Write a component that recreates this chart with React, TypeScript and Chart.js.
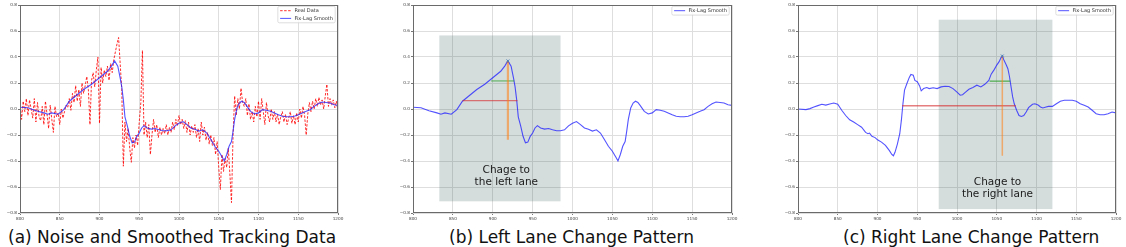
import React, { useEffect, useRef } from "react";
import { Chart, registerables } from "chart.js";

Chart.register(...registerables);

// ---------- axes ----------
const X_MIN = 800;
const X_MAX = 1200;
const Y_MIN = -0.8;
const Y_MAX = 0.8;
const X_TICKS = [800, 850, 900, 950, 1000, 1050, 1100, 1150, 1200];
const Y_TICKS = [-0.8, -0.6, -0.4, -0.2, 0, 0.2, 0.4, 0.6, 0.8];

// ---------- Fix-Lag Smooth (panels a & b) ----------
const SMOOTH_X = [
  800, 810, 820, 830, 835, 840, 848, 855, 862, 870,
  880, 890, 900, 910, 915, 919, 923, 926, 928, 930,
  932, 935, 938, 941, 944, 947, 950, 953, 956, 960,
  965, 970, 975, 980, 985, 990, 995, 1000, 1005, 1010,
  1015, 1020, 1025, 1030, 1035, 1040, 1045, 1050, 1055, 1057,
  1060, 1063, 1066, 1068, 1070, 1073, 1076, 1079, 1082, 1085,
  1090, 1095, 1100, 1105, 1110, 1115, 1120, 1125, 1130, 1135,
  1140, 1145, 1150, 1155, 1160, 1165, 1170, 1175, 1180, 1185,
  1190, 1195, 1200,
];
const SMOOTH_Y = [
  0.013, 0.01, -0.013, -0.03, -0.04, -0.03, -0.04, -0.005, 0.06, 0.1,
  0.15, 0.19, 0.24, 0.29, 0.33, 0.37, 0.33, 0.24, 0.17, 0.07,
  -0.06, -0.13, -0.21, -0.26, -0.255, -0.21, -0.185, -0.146, -0.128, -0.146,
  -0.155, -0.15, -0.16, -0.167, -0.167, -0.16, -0.13, -0.11, -0.097, -0.12,
  -0.146, -0.155, -0.17, -0.16, -0.185, -0.235, -0.287, -0.325, -0.377, -0.4,
  -0.35, -0.287, -0.25, -0.17, -0.08, 0.008, 0.046, 0.06, 0.05, 0.026,
  -0.018, -0.038, -0.03, -0.005, -0.01, -0.018, -0.03, -0.044, -0.056, -0.06,
  -0.06, -0.056, -0.044, -0.03, -0.018, -0.005, 0.02, 0.04, 0.054, 0.05,
  0.046, 0.033, 0.028,
];

// ---------- Real Data (panel a), sampled every 2 units from 800 ----------
const REAL_START = 800;
const REAL_STEP = 2;
const REAL_Y = [
  0.05, -0.08, 0.06, -0.02, 0.08, -0.05, 0.07, 0.0, -0.07, 0.08,
  -0.1, 0.05, -0.06, -0.09, 0.02, -0.12, 0.06, -0.04, -0.15, 0.03,
  -0.08, -0.18, 0.02, -0.06, -0.03, -0.12, 0.0, -0.07, -0.02, 0.03,
  0.01, 0.08, -0.01, 0.12, 0.05, 0.18, 0.06, 0.15, 0.02, 0.2,
  0.12, 0.18, 0.25, 0.15, -0.12, 0.22, 0.28, 0.17, 0.3, 0.4,
  -0.11, 0.32, 0.2, 0.3, 0.25, 0.33, 0.22, 0.35, 0.28, 0.38,
  0.44, 0.5, 0.55, 0.35, 0.15, -0.44, -0.1, -0.25, -0.15, -0.3,
  -0.41, -0.22, -0.3, -0.2, -0.28, -0.1, 0.05, 0.45, -0.2, -0.1,
  -0.22, -0.12, -0.35, -0.2, -0.08, -0.18, -0.12, -0.22, -0.14, -0.2,
  -0.15, -0.19, -0.12, -0.2, -0.14, -0.18, -0.1, -0.16, -0.08, -0.13,
  -0.05, -0.12, -0.08, -0.15, -0.09, -0.18, -0.1, -0.2, -0.13, -0.18,
  -0.12, -0.22, -0.15, -0.25, -0.1, -0.2, -0.14, -0.24, -0.18, -0.27,
  -0.2, -0.28, -0.22, -0.35, -0.25, -0.45, -0.62, -0.35, -0.48, -0.38,
  -0.45, -0.3, -0.5, -0.72, -0.2, 0.1, -0.05, 0.08, 0.0, 0.16,
  0.05, 0.02, 0.08, -0.05, 0.04, -0.08, -0.02, -0.1, 0.02, -0.06,
  0.06, -0.08, 0.08, -0.02, -0.12, 0.05, -0.05, -0.1, 0.0, -0.08,
  -0.02, -0.1, -0.04, -0.12, -0.06, -0.02, -0.1, -0.04, -0.12, -0.07,
  -0.02, -0.11, -0.05, -0.12, -0.03, -0.1, 0.0, -0.07, 0.02, -0.05,
  -0.2, -0.04, 0.05, -0.02, 0.06, 0.0, 0.08, 0.02, 0.09, 0.03,
  0.07, 0.0, 0.1, 0.19, 0.02, 0.08, 0.03, 0.07, 0.01, 0.06,
  -0.02,
];

// ---------- Fix-Lag Smooth (panel c) ----------
const RIGHT_X = [
  800, 810, 815, 820, 825, 830, 835, 840, 845, 850,
  855, 860, 865, 870, 875, 880, 885, 888, 890, 893,
  897, 900, 905, 910, 915, 918, 920, 922, 925, 928,
  930, 932, 934, 937, 940, 942, 945, 947, 950, 953,
  955, 958, 962, 965, 970, 975, 980, 985, 990, 995,
  1000, 1004, 1007, 1010, 1015, 1020, 1025, 1030, 1035, 1040,
  1043, 1047, 1050, 1053, 1055, 1057, 1059, 1062, 1064, 1066,
  1068, 1070, 1072, 1075, 1078, 1081, 1084, 1087, 1090, 1095,
  1098, 1102, 1105, 1108, 1112, 1115, 1120, 1125, 1130, 1135,
  1140, 1145, 1150, 1155, 1160, 1165, 1170, 1175, 1180, 1185,
  1190, 1195, 1200,
];
const RIGHT_Y = [
  0.0, -0.005, 0.003, 0.015, 0.026, 0.036, 0.03, 0.039, 0.046, 0.036,
  -0.01, -0.05, -0.083, -0.1, -0.12, -0.14, -0.18, -0.19, -0.185, -0.21,
  -0.22, -0.237, -0.255, -0.28, -0.32, -0.35, -0.36, -0.333, -0.27, -0.19,
  -0.088, 0.04, 0.145, 0.196, 0.243, 0.266, 0.26, 0.22, 0.21, 0.178,
  0.14, 0.157, 0.165, 0.157, 0.163, 0.157, 0.17, 0.175, 0.173, 0.157,
  0.13, 0.106, 0.11, 0.126, 0.152, 0.165, 0.183, 0.17, 0.19, 0.22,
  0.268, 0.305, 0.338, 0.364, 0.39, 0.408, 0.377, 0.338, 0.31, 0.25,
  0.17, 0.093, 0.04, -0.01, -0.05, -0.057, -0.05, -0.023, 0.01, 0.036,
  0.04, 0.03, 0.015, 0.008, 0.015, 0.02, 0.02, 0.04, 0.06, 0.067,
  0.067, 0.067, 0.06, 0.04, 0.028, 0.015, -0.01, -0.036, -0.044, -0.044,
  -0.036, -0.023, -0.03,
];

// ---------- annotations ----------
const LEFT_SPAN_X = [833, 985];
const LEFT_SPAN_Y = [-0.71, 0.566];
const LEFT_RED_X = [862, 931];
const LEFT_RED_Y = 0.064;
const LEFT_GREEN_X = [898, 927];
const LEFT_GREEN_Y = 0.216;
const LEFT_ORANGE_X = 919;
const LEFT_ORANGE_Y = [0.37, -0.237];
const LEFT_TEXT = ["Chage to", "the left lane"];
const LEFT_TEXT_X = 917;
const LEFT_TEXT_Y = [-0.475, -0.565];

const RIGHT_SPAN_X = [977, 1120];
const RIGHT_SPAN_Y = [-0.77, 0.687];
const RIGHT_RED_X = [931, 1074];
const RIGHT_RED_Y = 0.025;
const RIGHT_GREEN_X = [1041, 1067];
const RIGHT_GREEN_Y = 0.214;
const RIGHT_ORANGE_X = 1057;
const RIGHT_ORANGE_Y = [0.408, -0.36];
const RIGHT_TEXT = ["Chage to", "the right lane"];
const RIGHT_TEXT_X = 1051;
const RIGHT_TEXT_Y = [-0.565, -0.655];

const CAPTIONS = [
  "(a) Noise and Smoothed Tracking Data",
  "(b) Left Lane Change Pattern",
  "(c) Right Lane Change Pattern",
];

// ---------- styles ----------
const BLUE = "rgba(35,35,255,0.78)";
const RED_DASH = "rgba(255,0,0,0.82)";
const ANN_RED = "rgba(214,39,40,0.6)";
const ANN_GREEN = "rgba(44,160,44,0.6)";
const ANN_ORANGE = "rgba(255,127,14,0.55)";
const SPAN_FILL = "rgba(47,79,79,0.2)";
const FONT = '"DejaVu Sans", sans-serif';

type Pt = { x: number; y: number };
const zip = (xs: number[], ys: number[]): Pt[] => xs.map((x, i) => ({ x, y: ys[i] }));

type LegendItem = { label: string; color: string; dash?: number[] };
type Spec = {
  width: number;
  height: number;
  yAxisWidth: number;
  padRight: number;
  datasets: any[];
  legend: LegendItem[];
  spans: { x: number[]; y: number[] }[];
  texts: { x: number; y: number; text: string }[];
};

function lineSet(data: Pt[], color: string, width: number, order: number, dash?: number[]) {
  return {
    data,
    borderColor: color,
    backgroundColor: color,
    borderWidth: width,
    borderDash: dash || [],
    pointRadius: 0,
    fill: false,
    tension: 0,
    order,
  };
}

function fmtY(v: number) {
  const r = Math.round(v * 10) / 10;
  if (Math.abs(r) < 1e-9) return "0.0";
  return (r < 0 ? "\u2212" : "") + Math.abs(r).toFixed(1);
}

function buildConfig(spec: Spec): any {
  const decor = {
    id: "panelDecor",
    beforeDatasetsDraw(chart: any) {
      const { ctx, chartArea, scales } = chart;
      const x = scales.x;
      const y = scales.y;
      ctx.save();
      ctx.beginPath();
      ctx.rect(chartArea.left, chartArea.top, chartArea.right - chartArea.left, chartArea.bottom - chartArea.top);
      ctx.clip();
      ctx.fillStyle = SPAN_FILL;
      for (const s of spec.spans) {
        const px0 = x.getPixelForValue(s.x[0]);
        const px1 = x.getPixelForValue(s.x[1]);
        const py0 = y.getPixelForValue(s.y[0]);
        const py1 = y.getPixelForValue(s.y[1]);
        ctx.fillRect(px0, py1, px1 - px0, py0 - py1);
      }
      ctx.restore();
    },
    afterDraw(chart: any) {
      const { ctx, chartArea, scales } = chart;
      const x = scales.x;
      const y = scales.y;
      ctx.save();
      // annotation texts
      ctx.font = `10.5px ${FONT}`;
      ctx.fillStyle = "#1a1a1a";
      ctx.textAlign = "center";
      ctx.textBaseline = "middle";
      for (const t of spec.texts) {
        ctx.fillText(t.text, x.getPixelForValue(t.x), y.getPixelForValue(t.y));
      }
      // frame
      ctx.strokeStyle = "#6a6a6a";
      ctx.lineWidth = 1;
      const l = Math.round(chartArea.left) + 0.5;
      const tp = Math.round(chartArea.top) + 0.5;
      const r = Math.round(chartArea.right) - 0.5;
      const b = Math.round(chartArea.bottom) - 0.5;
      ctx.strokeRect(l, tp, r - l, b - tp);
      // legend
      if (spec.legend.length) {
        ctx.font = `5px ${FONT}`;
        const tw = Math.max(...spec.legend.map((it) => ctx.measureText(it.label).width));
        const rowH = 7.7;
        const boxW = 16.6 + tw + 2.2;
        const boxH = 8.7 + (spec.legend.length - 1) * rowH;
        const bx = chartArea.right - 2.8 - boxW;
        const by = chartArea.top + 1.4;
        ctx.beginPath();
        if ((ctx as any).roundRect) (ctx as any).roundRect(bx, by, boxW, boxH, 1.5);
        else ctx.rect(bx, by, boxW, boxH);
        ctx.fillStyle = "rgba(255,255,255,0.85)";
        ctx.fill();
        ctx.strokeStyle = "#d0d0d0";
        ctx.lineWidth = 0.7;
        ctx.stroke();
        spec.legend.forEach((it, i) => {
          const cy = by + 4.3 + i * rowH;
          ctx.beginPath();
          ctx.setLineDash(it.dash || []);
          ctx.strokeStyle = it.color;
          ctx.lineWidth = 1;
          ctx.moveTo(bx + 2.3, cy);
          ctx.lineTo(bx + 13.3, cy);
          ctx.stroke();
          ctx.setLineDash([]);
          ctx.fillStyle = "#333";
          ctx.textAlign = "left";
          ctx.textBaseline = "middle";
          ctx.fillText(it.label, bx + 16.6, cy);
        });
      }
      ctx.restore();
    },
  };

  return {
    type: "line",
    data: { datasets: spec.datasets },
    options: {
      responsive: false,
      maintainAspectRatio: false,
      animation: false,
      events: [],
      layout: { padding: { left: 0, top: 5, right: spec.padRight, bottom: 0 } },
      plugins: { legend: { display: false }, tooltip: { enabled: false }, title: { display: false } },
      scales: {
        x: {
          type: "linear",
          min: X_MIN,
          max: X_MAX,
          afterBuildTicks: (s: any) => {
            s.ticks = X_TICKS.map((v) => ({ value: v }));
          },
          afterFit: (s: any) => {
            s.height = 12;
          },
          grid: { color: "#dedede", lineWidth: 1, tickLength: 2, tickColor: "#777", drawTicks: true },
          border: { display: false },
          ticks: {
            font: { family: FONT, size: 4.2 },
            color: "#444",
            padding: 1,
            maxRotation: 0,
            autoSkip: false,
            callback: (v: any) => String(v),
          },
        },
        y: {
          type: "linear",
          min: Y_MIN,
          max: Y_MAX,
          afterBuildTicks: (s: any) => {
            s.ticks = Y_TICKS.map((v) => ({ value: v }));
          },
          afterFit: (s: any) => {
            s.width = spec.yAxisWidth;
          },
          grid: { color: "#dedede", lineWidth: 1, tickLength: 2, tickColor: "#777", drawTicks: true },
          border: { display: false },
          ticks: {
            font: { family: FONT, size: 4.2 },
            color: "#444",
            padding: 1,
            autoSkip: false,
            callback: (v: any) => fmtY(Number(v)),
          },
        },
      },
    },
    plugins: [decor],
  };
}

function Panel({ spec, left }: { spec: Spec; left: number }) {
  const ref = useRef<HTMLCanvasElement | null>(null);
  useEffect(() => {
    if (!ref.current) return;
    const chart = new Chart(ref.current, buildConfig(spec));
    return () => chart.destroy();
  }, []);
  return (
    <canvas
      ref={ref}
      width={spec.width}
      height={spec.height}
      style={{ position: "absolute", left, top: 0, width: spec.width, height: spec.height }}
    />
  );
}

const realPoints: Pt[] = REAL_Y.map((y, i) => ({ x: REAL_START + i * REAL_STEP, y }));

const specA: Spec = {
  width: 375,
  height: 225,
  yAxisWidth: 20,
  padRight: 37,
  datasets: [
    lineSet(zip(SMOOTH_X, SMOOTH_Y), BLUE, 1.1, 0),
    lineSet(realPoints, RED_DASH, 1, 1, [2.5, 1.5]),
  ],
  legend: [
    { label: "Real Data", color: RED_DASH, dash: [2.5, 1.5] },
    { label: "Fix-Lag Smooth", color: BLUE },
  ],
  spans: [],
  texts: [],
};

const specB: Spec = {
  width: 375,
  height: 225,
  yAxisWidth: 38,
  padRight: 18,
  datasets: [
    lineSet(zip(SMOOTH_X, SMOOTH_Y), BLUE, 1.1, 3),
    lineSet(zip(LEFT_RED_X, [LEFT_RED_Y, LEFT_RED_Y]), ANN_RED, 1.3, 2),
    lineSet(zip(LEFT_GREEN_X, [LEFT_GREEN_Y, LEFT_GREEN_Y]), ANN_GREEN, 1.3, 2),
    lineSet(zip([LEFT_ORANGE_X, LEFT_ORANGE_X], LEFT_ORANGE_Y), ANN_ORANGE, 2.2, 1),
    {
      data: [{ x: LEFT_ORANGE_X, y: LEFT_ORANGE_Y[0] }],
      showLine: false,
      pointStyle: "crossRot",
      pointRadius: 2,
      borderWidth: 1,
      borderColor: "rgba(70,130,180,0.9)",
      order: 0,
    },
  ],
  legend: [{ label: "Fix-Lag Smooth", color: BLUE }],
  spans: [{ x: LEFT_SPAN_X, y: LEFT_SPAN_Y }],
  texts: LEFT_TEXT.map((t, i) => ({ x: LEFT_TEXT_X, y: LEFT_TEXT_Y[i], text: t })),
};

const specC: Spec = {
  width: 376,
  height: 225,
  yAxisWidth: 48,
  padRight: 10,
  datasets: [
    lineSet(zip(RIGHT_X, RIGHT_Y), BLUE, 1.1, 3),
    lineSet(zip(RIGHT_RED_X, [RIGHT_RED_Y, RIGHT_RED_Y]), ANN_RED, 1.3, 2),
    lineSet(zip(RIGHT_GREEN_X, [RIGHT_GREEN_Y, RIGHT_GREEN_Y]), ANN_GREEN, 1.6, 2),
    lineSet(zip([RIGHT_ORANGE_X, RIGHT_ORANGE_X], RIGHT_ORANGE_Y), ANN_ORANGE, 1.5, 1),
    {
      data: [{ x: RIGHT_ORANGE_X, y: RIGHT_ORANGE_Y[0] }],
      showLine: false,
      pointStyle: "crossRot",
      pointRadius: 2,
      borderWidth: 1,
      borderColor: "rgba(70,130,180,0.9)",
      order: 0,
    },
  ],
  legend: [{ label: "Fix-Lag Smooth", color: BLUE }],
  spans: [{ x: RIGHT_SPAN_X, y: RIGHT_SPAN_Y }],
  texts: RIGHT_TEXT.map((t, i) => ({ x: RIGHT_TEXT_X, y: RIGHT_TEXT_Y[i], text: t })),
};

const CAPTION_LEFT = [8, 449, 843];

export default function App() {
  return (
    <div style={{ position: "absolute", left: 0, top: 0, width: 1126, height: 247, background: "#fff", overflow: "hidden" }}>
      <Panel spec={specA} left={0} />
      <Panel spec={specB} left={375} />
      <Panel spec={specC} left={750} />
      {CAPTIONS.map((c, i) => (
        <div
          key={i}
          style={{
            position: "absolute",
            left: CAPTION_LEFT[i],
            top: 227,
            fontFamily: FONT,
            fontSize: 17,
            lineHeight: "20px",
            color: "#111",
            whiteSpace: "nowrap",
          }}
        >
          {c}
        </div>
      ))}
    </div>
  );
}
